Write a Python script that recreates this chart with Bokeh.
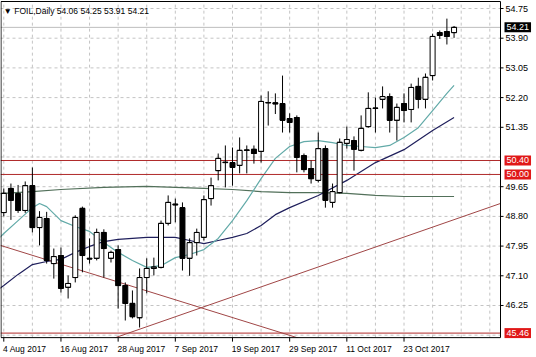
from bokeh.plotting import figure
from bokeh.models import ColumnDataSource, Label, Range1d
from bokeh.embed import file_html
from bokeh.resources import INLINE

symbol = "FOIL"
period = "Daily"

opens = [48.91, 49.60, 49.45, 48.97, 49.68, 48.48, 48.74, 47.45, 47.68, 46.77,
         47.05, 49.03, 47.60, 47.60, 48.34, 47.60, 47.85, 46.82, 46.31, 45.90,
         47.05, 47.31, 47.34, 48.60, 49.15, 49.05, 47.60, 48.05, 48.20, 49.31,
         50.11, 50.35, 50.34, 50.26, 50.69, 50.72, 50.66, 52.06, 52.05, 52.03,
         51.60, 51.63, 50.54, 50.17, 49.83, 50.74, 49.20, 49.48, 50.89, 50.97,
         50.69, 51.37, 51.89, 52.15, 52.23, 51.55, 52.03, 51.86, 52.52, 52.15,
         52.83, 54.06, 54.09, 54.06]
highs = [49.60, 49.74, 49.70, 49.80, 50.20, 48.95, 48.93, 47.88, 47.91, 47.11,
         48.83, 49.08, 48.17, 48.45, 48.43, 47.82, 47.97, 46.91, 46.68, 47.31,
         47.60, 47.62, 48.68, 49.40, 49.31, 49.20, 48.17, 48.45, 49.40, 49.91,
         50.60, 50.83, 50.77, 51.06, 50.83, 50.83, 52.26, 52.38, 52.32, 52.83,
         51.75, 51.69, 50.60, 50.40, 51.20, 50.83, 49.74, 51.03, 51.37, 51.09,
         51.69, 52.35, 52.20, 52.52, 52.32, 52.03, 52.32, 52.60, 52.77, 52.89,
         54.03, 54.12, 54.46, 54.25]
lows = [48.80, 48.70, 48.90, 48.90, 48.34, 47.97, 47.45, 47.02, 46.62, 46.45,
        46.91, 47.20, 47.45, 47.54, 47.05, 47.48, 46.16, 45.82, 45.88, 45.62,
        46.60, 47.11, 47.31, 48.54, 48.63, 47.25, 47.10, 47.68, 48.11, 49.11,
        49.83, 49.63, 49.68, 50.03, 50.03, 50.31, 50.34, 51.40, 51.73, 51.20,
        51.20, 50.06, 50.06, 49.74, 49.77, 49.05, 49.05, 49.46, 50.74, 50.11,
        50.66, 51.34, 51.20, 51.89, 51.20, 50.97, 51.49, 51.49, 51.89, 51.89,
        52.69, 53.88, 53.72, 53.91]
closes = [49.46, 49.26, 48.97, 49.68, 48.48, 48.77, 47.54, 47.65, 46.74, 46.88,
          48.77, 47.68, 47.58, 48.34, 47.88, 47.77, 46.82, 46.31, 45.93, 47.05,
          47.31, 47.35, 48.60, 49.20, 49.13, 47.60, 48.05, 48.34, 49.28, 49.68,
          50.46, 50.34, 50.20, 50.69, 50.70, 50.60, 52.09, 52.05, 52.02, 51.55,
          51.49, 50.49, 50.14, 49.88, 50.74, 49.26, 49.51, 50.92, 51.00, 50.72,
          51.32, 51.89, 51.90, 52.23, 51.55, 51.92, 51.83, 52.49, 52.15, 52.78,
          53.95, 53.98, 53.95, 54.21]

price_ticks = [54.75, 53.90, 53.05, 52.20, 51.35, 50.50, 49.65, 48.80, 47.95,
               47.10, 46.25, 45.40]
hidden_price_labels = [50.50, 45.40]
date_ticks = [0, 8, 16, 24, 32, 40, 48, 56]
date_labels = ["4 Aug 2017", "16 Aug 2017", "28 Aug 2017", "7 Sep 2017",
               "19 Sep 2017", "29 Sep 2017", "11 Oct 2017", "23 Oct 2017"]
grid_bars = list(range(0, 72, 4))

level_prices = [50.40, 50.00, 45.46]

fast_ma_bars = [-1, 0, 2, 4, 5, 6, 8, 10, 12, 14, 16, 18, 20, 22, 24, 26, 28, 30,
                32, 34, 36, 38, 40, 42, 44, 46, 48, 50, 52, 54, 56, 58, 60, 62, 63]
fast_ma = [48.11, 48.31, 48.68, 49.05, 49.17, 49.08, 48.68, 48.51, 48.37, 48.05,
           47.77, 47.54, 47.34, 47.39, 47.62, 47.71, 47.85, 48.17, 48.68, 49.25,
           49.88, 50.46, 50.80, 50.94, 50.97, 50.91, 50.83, 50.80, 50.77, 50.83,
           51.06, 51.34, 51.83, 52.32, 52.55]
mid_ma_bars = [-1, 0, 2, 4, 6, 8, 10, 12, 14, 16, 20, 24, 26, 28, 30, 32, 34, 36,
               38, 40, 44, 48, 52, 56, 60, 63]
mid_ma = [46.68, 46.82, 47.14, 47.42, 47.51, 47.57, 47.77, 47.94, 48.08, 48.14,
          48.20, 48.20, 48.11, 48.02, 48.11, 48.20, 48.31, 48.54, 48.85, 49.05,
          49.40, 49.83, 50.34, 50.71, 51.26, 51.63]
slow_ma_bars = [-1, 0, 4, 8, 14, 20, 24, 28, 32, 36, 40, 44, 48, 52, 56, 60, 63]
slow_ma = [49.44, 49.46, 49.51, 49.57, 49.63, 49.66, 49.63, 49.60, 49.57, 49.51,
           49.48, 49.48, 49.46, 49.40, 49.37, 49.37, 49.37]

desc_trend_bars = [-0.46, 41.5]
desc_trend_prices = [47.97, 45.30]
asc_trend_bars = [14.5, 69.5]
asc_trend_prices = [45.25, 49.17]

# ---- layout (pixels) ----
FIG_W, FIG_H = 536, 357
PX_PER_BAR = 7.147
PX_PER_UNIT = 34.94
x_start, x_end = -0.46, 69.5          # chart box, in bars
y_bottom, y_top = 45.33, 54.95        # chart box, in price
page_top_price = 54.979

FONT = "Liberation Sans"
GRID = "#C4C4C4"
LEVEL_RED = "#B02A2A"
TREND_RED = "#A04646"

x_range = Range1d(x_start, x_start + FIG_W / PX_PER_BAR)
y_range = Range1d(page_top_price - FIG_H / PX_PER_UNIT, page_top_price)

p = figure(width=FIG_W, height=FIG_H, x_range=x_range, y_range=y_range,
           x_axis_location=None, y_axis_location=None,
           output_backend="svg", toolbar_location=None,
           min_border=0, outline_line_color=None,
           background_fill_color="white", border_fill_color="white")
p.grid.visible = False

# grid (dashed)
p.segment(x0=grid_bars, y0=[y_bottom] * len(grid_bars), x1=grid_bars,
          y1=[y_top] * len(grid_bars), line_color=GRID, line_dash="3 3", line_width=1)
p.segment(x0=[x_start] * len(price_ticks), y0=price_ticks,
          x1=[x_end] * len(price_ticks), y1=price_ticks,
          line_color=GRID, line_dash="3 3", line_width=1)

# current price line
p.segment(x0=[x_start], y0=[closes[-1]], x1=[x_end], y1=[closes[-1]],
          line_color="#BDBDBD", line_width=1)

# moving averages
p.line(slow_ma_bars, slow_ma, line_color="#52705A", line_width=1.2)
p.line(mid_ma_bars, mid_ma, line_color="#1F1F5C", line_width=1.2)
p.line(fast_ma_bars, fast_ma, line_color="#62AAA8", line_width=1.2)

# horizontal levels
p.segment(x0=[x_start] * len(level_prices), y0=level_prices,
          x1=[x_end] * len(level_prices), y1=level_prices,
          line_color=LEVEL_RED, line_width=1)

# trend lines
p.line(desc_trend_bars, desc_trend_prices, line_color=TREND_RED, line_width=1)
p.line(asc_trend_bars, asc_trend_prices, line_color=TREND_RED, line_width=1)

# candles
bars = list(range(len(opens)))
src = ColumnDataSource(dict(
    x=bars, open=opens, high=highs, low=lows, close=closes,
    top=[max(o, c) for o, c in zip(opens, closes)],
    bottom=[min(o, c) for o, c in zip(opens, closes)],
    color=["white" if c >= o else "black" for o, c in zip(opens, closes)],
    xl=[b - 0.35 for b in bars], xr=[b + 0.35 for b in bars],
))
p.segment(x0="x", y0="high", x1="x", y1="low", source=src, line_color="black", line_width=1)
p.vbar(x="x", width=0.7, top="top", bottom="bottom", fill_color="color",
       line_color="black", line_width=1, source=src)
p.segment(x0="xl", y0="open", x1="xr", y1="open", source=src, line_color="black", line_width=1)
p.segment(x0="xl", y0="close", x1="xr", y1="close", source=src, line_color="black", line_width=1)

# chart box (white cover for the scale area, then the frame)
p.quad(left=[x_end], right=[x_range.end + 1], bottom=[y_range.start - 1], top=[y_range.end + 1],
       fill_color="white", line_color=None)
p.quad(left=[x_start], right=[x_range.end + 1], bottom=[y_range.start - 1], top=[y_bottom],
       fill_color="white", line_color=None)
p.quad(left=[x_start + 0.5 / PX_PER_BAR], right=[x_end], bottom=[y_bottom],
       top=[y_top], fill_color=None, line_color="black", line_width=1)

# price scale: ticks and labels
shown = [t for t in price_ticks if t not in hidden_price_labels]
p.segment(x0=[x_end] * len(shown), y0=shown, x1=[x_end + 3 / PX_PER_BAR] * len(shown),
          y1=shown, line_color="black", line_width=1)
p.text(x=[x_end + 5 / PX_PER_BAR] * len(shown), y=shown,
       text=["{:.2f}".format(t) for t in shown], text_baseline="middle",
       text_align="left", text_font={"value": FONT}, text_font_size="9px",
       text_color="black")

# time scale: ticks and labels
p.segment(x0=date_ticks, y0=[y_bottom] * len(date_ticks), x1=date_ticks,
          y1=[y_bottom - 4 / PX_PER_UNIT] * len(date_ticks), line_color="black", line_width=1)
p.text(x=[b - 0.1 for b in date_ticks], y=[y_bottom - 6 / PX_PER_UNIT] * len(date_ticks),
       text=date_labels, text_baseline="top", text_align="left",
       text_font={"value": FONT}, text_font_size="8.5px", text_color="black")

# title
title_text = "\u25bc {},{}  {:.2f} {:.2f} {:.2f} {:.2f}".format(
    symbol, period, opens[-1], highs[-1], lows[-1], closes[-1])
p.text(x=[x_start + 3 / PX_PER_BAR], y=[y_top - 4 / PX_PER_UNIT], text=[title_text],
       text_baseline="top", text_align="left", text_font={"value": FONT},
       text_font_size="8.5px", text_color="black")

# price boxes on the scale
box_x = x_end + 4 / PX_PER_BAR
for lvl in level_prices:
    p.add_layout(Label(x=box_x, y=lvl, text="{:.2f}".format(lvl),
                       text_baseline="middle", text_align="left", text_font=FONT,
                       text_font_size="9px", text_color="white",
                       background_fill_color="#E01818", padding=2))
p.add_layout(Label(x=box_x, y=closes[-1], text="{:.2f}".format(closes[-1]),
                   text_baseline="middle", text_align="left", text_font=FONT,
                   text_font_size="9px", text_color="white",
                   background_fill_color="black", padding=2))

open("out.html", "w").write(file_html(p, INLINE))
